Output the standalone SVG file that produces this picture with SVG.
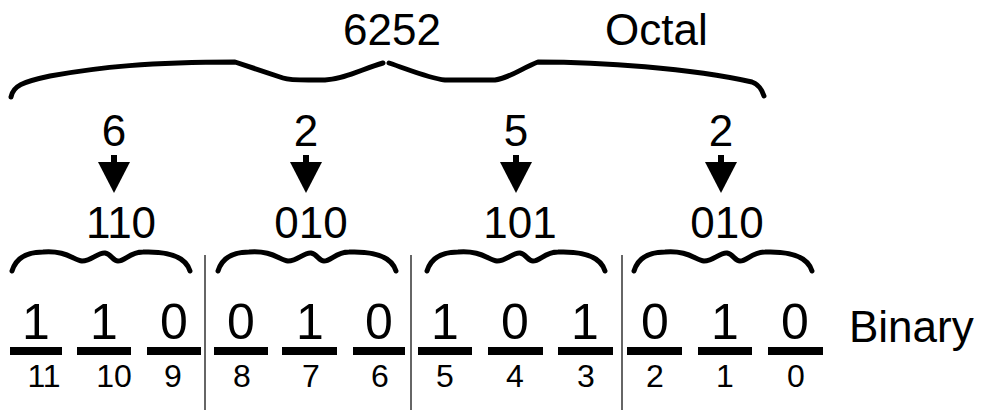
<svg xmlns="http://www.w3.org/2000/svg" width="981" height="410" viewBox="0 0 981 410">
  <style>
    text { font-family: "Liberation Sans", Arial, sans-serif; fill: #000; }
    .big { font-size: 44px; }
    .bit { font-size: 50px; text-anchor: middle; }
    .idx { font-size: 32px; text-anchor: middle; }
    .mid { text-anchor: middle; }
    .brace { fill: none; stroke: #000; stroke-width: 5; stroke-linecap: round; stroke-linejoin: round; }
    .sep { stroke: #333; stroke-width: 1.5; }
    .bar { fill: #000; }
  </style>
  <defs>
    <!-- small three-bit brace, 182 wide, origin at its left foot -->
    <path id="smallBrace" class="brace" d="M 2 25 C 6 12, 16 6, 33 6 C 55 4, 64 14, 72 15 C 82 15, 88 6, 95 7 C 101 8, 103 15, 108 15 C 115 15, 120 6, 133 6 C 160 5, 176 12, 180 25"/>
    <!-- downward arrow: short stem and solid head -->
    <g id="downArrow"><rect x="-3" y="155" width="6" height="8"/><path d="M -16 162 L 16 162 L 0 193 Z"/></g>
  </defs>

  <!-- octal number heading -->
  <g id="octal-label">
    <text class="big" x="343" y="45">6252</text>
    <text class="big" x="605" y="45">Octal</text>
  </g>

  <!-- large brace grouping all twelve bits -->
  <g id="octal-brace">
    <path class="brace" d="M 11 97 C 13 86, 22 82, 50 76 C 100 67, 150 62, 235 62 L 283 78 C 292 81, 305 80, 325 80 C 345 79, 362 69, 383 63"/>
    <path class="brace" d="M 389 63 C 410 70, 428 78, 445 80 L 495 80 C 510 78, 522 68, 538 62 C 600 62, 690 68, 752 82 C 758 84, 762 90, 764 96"/>
  </g>

  <!-- octal digits -->
  <g id="digit-6"><text class="big mid" x="114" y="146">6</text></g>
  <g id="digit-2a"><text class="big mid" x="306" y="146">2</text></g>
  <g id="digit-5"><text class="big mid" x="516" y="146">5</text></g>
  <g id="digit-2b"><text class="big mid" x="721" y="146">2</text></g>

  <!-- arrows from each octal digit to its binary triple -->
  <g id="connectors">
    <use href="#downArrow" x="114" y="0"/>
    <use href="#downArrow" x="306" y="0"/>
    <use href="#downArrow" x="516" y="0"/>
    <use href="#downArrow" x="721" y="0"/>
  </g>

  <!-- binary triples -->
  <g id="triple-110"><text class="big mid" x="121" y="238">110</text></g>
  <g id="triple-010a"><text class="big mid" x="311" y="238">010</text></g>
  <g id="triple-101"><text class="big mid" x="520" y="238">101</text></g>
  <g id="triple-010b"><text class="big mid" x="727" y="238">010</text></g>

  <!-- braces over each group of three bits -->
  <g id="group-braces">
    <use href="#smallBrace" x="10" y="246"/>
    <use href="#smallBrace" x="216" y="246"/>
    <use href="#smallBrace" x="425" y="246"/>
    <use href="#smallBrace" x="632" y="246"/>
  </g>

  <!-- separators between groups -->
  <g id="separators">
    <line class="sep" x1="205" y1="255" x2="205" y2="410"/>
    <line class="sep" x1="411" y1="255" x2="411" y2="410"/>
    <line class="sep" x1="622" y1="255" x2="622" y2="410"/>
  </g>

  <!-- individual bits, underline bars and bit positions -->
  <g id="bits">
    <text class="bit" x="36" y="339">1</text>
    <text class="bit" x="104" y="339">1</text>
    <text class="bit" x="174" y="339">0</text>
    <text class="bit" x="241" y="339">0</text>
    <text class="bit" x="310" y="339">1</text>
    <text class="bit" x="379" y="339">0</text>
    <text class="bit" x="445" y="339">1</text>
    <text class="bit" x="515" y="339">0</text>
    <text class="bit" x="585" y="339">1</text>
    <text class="bit" x="655" y="339">0</text>
    <text class="bit" x="725" y="339">1</text>
    <text class="bit" x="795" y="339">0</text>
  </g>
  <g id="bars">
    <rect class="bar" x="10" y="347" width="52" height="8"/>
    <rect class="bar" x="77" y="347" width="54" height="8"/>
    <rect class="bar" x="147" y="347" width="54" height="8"/>
    <rect class="bar" x="214" y="347" width="54" height="8"/>
    <rect class="bar" x="282" y="347" width="55" height="8"/>
    <rect class="bar" x="353" y="347" width="52" height="8"/>
    <rect class="bar" x="418" y="347" width="54" height="8"/>
    <rect class="bar" x="488" y="347" width="55" height="8"/>
    <rect class="bar" x="558" y="347" width="55" height="8"/>
    <rect class="bar" x="627" y="347" width="55" height="8"/>
    <rect class="bar" x="698" y="347" width="54" height="8"/>
    <rect class="bar" x="768" y="347" width="55" height="8"/>
  </g>
  <g id="positions">
    <text class="idx" x="44" y="387">11</text>
    <text class="idx" x="114" y="387">10</text>
    <text class="idx" x="173" y="387">9</text>
    <text class="idx" x="242" y="387">8</text>
    <text class="idx" x="311" y="387">7</text>
    <text class="idx" x="380" y="387">6</text>
    <text class="idx" x="445" y="387">5</text>
    <text class="idx" x="515" y="387">4</text>
    <text class="idx" x="586" y="387">3</text>
    <text class="idx" x="655" y="387">2</text>
    <text class="idx" x="725" y="387">1</text>
    <text class="idx" x="796" y="387">0</text>
  </g>

  <g id="binary-label">
    <text class="big" x="849" y="342">Binary</text>
  </g>
</svg>
